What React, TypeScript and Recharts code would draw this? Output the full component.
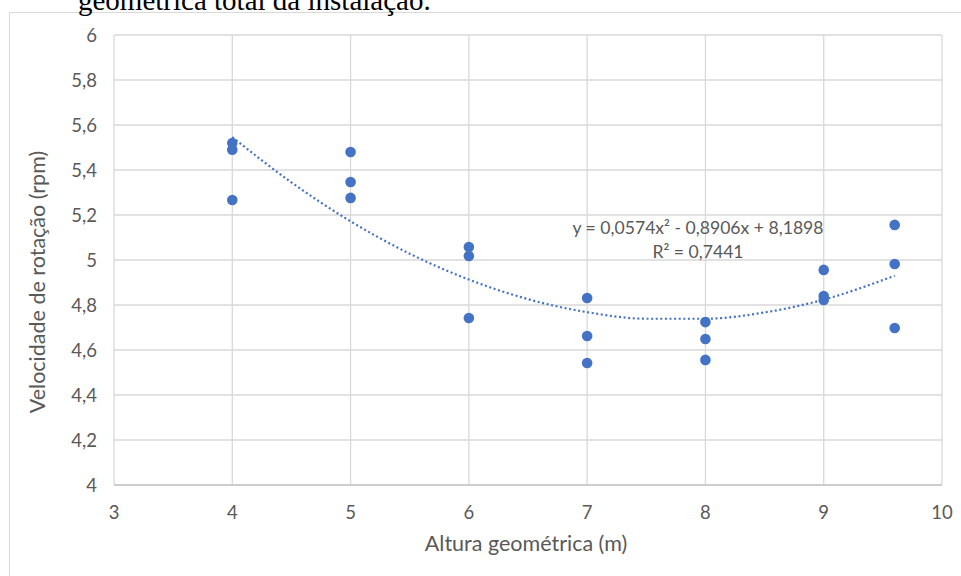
import React from 'react';
import { ComposedChart, Scatter, Line, XAxis, YAxis, CartesianGrid } from 'recharts';

const heights = [4, 4, 4, 5, 5, 5, 6, 6, 6, 7, 7, 7, 8, 8, 8, 9, 9, 9, 9.6, 9.6, 9.6];
const speeds = [5.52, 5.49, 5.267, 5.48, 5.347, 5.276, 5.058, 5.018, 4.742, 4.831, 4.662, 4.542, 4.724, 4.649, 4.556, 4.956, 4.84, 4.822, 5.156, 4.982, 4.698];
const trendX = [4, 4.5, 5, 5.5, 6, 6.5, 7, 7.5, 8, 8.5, 9, 9.6];
const trendY = [5.546, 5.345, 5.172, 5.028, 4.913, 4.826, 4.768, 4.739, 4.739, 4.767, 4.824, 4.93];
const xTicks = [3, 4, 5, 6, 7, 8, 9, 10];
const yTicks = [4, 4.2, 4.4, 4.6, 4.8, 5, 5.2, 5.4, 5.6, 5.8, 6];

const points = heights.map((x, i) => ({ x, y: speeds[i] }));
const trend = trendX.map((x, i) => ({ x, y: trendY[i] }));

const FONT = 'Lato, "Noto Sans", sans-serif';
const TXT = '#595959';

const fmtY = (v: number) => (Number.isInteger(v) ? String(v) : v.toFixed(1).replace('.', ','));

export default function App() {
  return (
    <div style={{ position: 'absolute', left: 0, top: 0, width: 961, height: 576, overflow: 'hidden', background: '#fff' }}>
      <div style={{ position: 'absolute', left: 9, top: 12, width: 1100, height: 800, border: '1.5px solid #d9d9d9', boxSizing: 'border-box' }} />
      <div style={{ position: 'absolute', left: 0, top: 0 }}>
        <ComposedChart width={961} height={576} margin={{ top: 35, right: 19, bottom: 61, left: 54 }}>
          <CartesianGrid stroke="#d9d9d9" strokeWidth={1.3} />
          <XAxis
            type="number"
            dataKey="x"
            domain={[3, 10]}
            ticks={xTicks}
            interval={0}
            height={30}
            tickLine={false}
            tickMargin={15}
            axisLine={{ stroke: '#c6c6c6', strokeWidth: 1.5 }}
            tick={{ fill: TXT, fontSize: 18.5, fontFamily: FONT }}
            allowDataOverflow
          />
          <YAxis
            type="number"
            dataKey="y"
            domain={[4, 6]}
            ticks={yTicks}
            interval={0}
            width={60}
            tickLine={false}
            tickMargin={11}
            axisLine={false}
            tickFormatter={fmtY}
            tick={{ fill: TXT, fontSize: 18.5, fontFamily: FONT }}
            allowDataOverflow
          />
          <Line
            data={trend}
            dataKey="y"
            type="monotone"
            stroke="#4472C4"
            strokeWidth={2.2}
            strokeDasharray="2 2.6"
            dot={false}
            activeDot={false}
            isAnimationActive={false}
          />
          <Scatter data={points} dataKey="y" fill="#4472C4" isAnimationActive={false} shape={(p: any) => <circle cx={p.cx} cy={p.cy} r={5.3} fill="#4472C4" />} />
        </ComposedChart>
      </div>
      <svg width={961} height={576} style={{ position: 'absolute', left: 0, top: 0, pointerEvents: 'none' }}>
        <text x={78} y={9.5} fontFamily='"Liberation Serif", "Times New Roman", serif' fontSize={29} fill="#000">
          geométrica total da instalação.
        </text>
        <text x={37} y={282} transform="rotate(-90 37 282)" textAnchor="middle" dominantBaseline="central" fontFamily={FONT} fontSize={21.5} fill={TXT}>
          Velocidade de rotação (rpm)
        </text>
        <text x={526} y={551} textAnchor="middle" fontFamily={FONT} fontSize={21.5} fill={TXT}>
          Altura geométrica (m)
        </text>
        <text x={698} y={234} textAnchor="middle" fontFamily={FONT} fontSize={17.6} fill={TXT}>
          y = 0,0574x² - 0,8906x + 8,1898
        </text>
        <text x={698} y={258} textAnchor="middle" fontFamily={FONT} fontSize={17.6} fill={TXT}>
          R² = 0,7441
        </text>
      </svg>
    </div>
  );
}
